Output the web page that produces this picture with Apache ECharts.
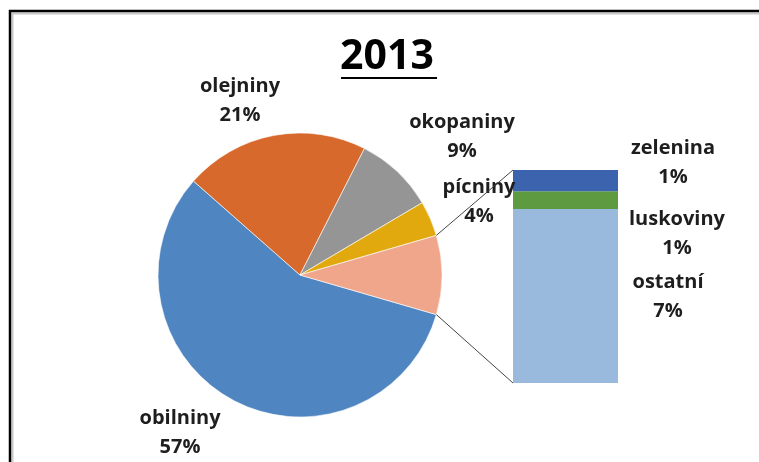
<!DOCTYPE html>
<html>
<head>
<meta charset="utf-8">
<script src="https://cdn.jsdelivr.net/npm/echarts@6/dist/echarts.min.js"></script>
<style>html,body{margin:0;padding:0;background:#fff}#c{width:759px;height:462px}</style>
</head>
<body>
<div id="c"></div>
<script>
// ---- data ----
const titleText = '2013';
const pieCats = ['obilniny', 'olejniny', 'okopaniny', 'pícniny', 'ostatní'];
const pieValues = [57, 21, 9, 4, 9];
const barCats = ['ostatní', 'luskoviny', 'zelenina'];
const barValues = [7.35, 0.75, 0.9];

// ---- layout / style ----
const FONT = 'Open Sans';
const pieColors = ['#4F86C1', '#D6692B', '#959595', '#E2A90F', '#EFA68B'];
const barColors = ['#9ABADD', '#5E9B40', '#3C64AE'];
const cx = 300, cy = 275, R = 142;
const startAngle = -16.2;
const gridL = 513, gridT = 170, gridW = 105, gridH = 213;
const pieLabelPos = [[180, 433], [240, 101], [462, 137], [479, 202], null];
const barLabelPos = [[668, 297], [677, 234], [673, 163]];

const pieTotal = pieValues.reduce((a, b) => a + b, 0);
const barTotal = barValues.reduce((a, b) => a + b, 0);

// connector line endpoints from pie geometry
const before = pieValues.slice(0, pieValues.length - 1).reduce((a, b) => a + b, 0);
const aTop = (startAngle - before / pieTotal * 360) * Math.PI / 180;
const aBot = (startAngle - 360) * Math.PI / 180;
const pTop = [cx + R * Math.cos(aTop), cy - R * Math.sin(aTop)];
const pBot = [cx + R * Math.cos(aBot), cy - R * Math.sin(aBot)];

const labelStyle = {
  fontFamily: FONT, fontSize: 20, fontWeight: 'bold', color: '#1e1e1e', lineHeight: 29
};

const chart = echarts.init(document.getElementById('c'));
const option = {
  animation: false,
  grid: { left: gridL, top: gridT, width: gridW, height: gridH },
  xAxis: { type: 'category', data: ['x'], show: false },
  yAxis: { type: 'value', min: 0, max: barTotal, show: false },
  series: [
    {
      type: 'pie',
      center: [cx, cy],
      radius: R,
      startAngle: startAngle,
      clockwise: true,
      avoidLabelOverlap: false,
      itemStyle: { borderColor: '#fff', borderWidth: 0.6 },
      label: Object.assign({ formatter: p => p.name + '\n' + Math.round(p.value / pieTotal * 100) + '%' }, labelStyle),
      labelLine: { show: false },
      labelLayout: function (p) {
        const pos = pieLabelPos[p.dataIndex];
        if (!pos) return {};
        return { x: pos[0], y: pos[1], align: 'center', verticalAlign: 'middle' };
      },
      data: pieCats.map((n, i) => ({
        name: n, value: pieValues[i],
        itemStyle: { color: pieColors[i] },
        label: { show: i < pieCats.length - 1 }
      }))
    }
  ].concat(barCats.map((n, i) => ({
    type: 'bar',
    name: n,
    stack: 'other',
    barWidth: '100%',
    itemStyle: { color: barColors[i] },
    label: Object.assign({
      show: true, position: 'right',
      formatter: p => n + '\n' + Math.round(p.value / pieTotal * 100) + '%'
    }, labelStyle),
    labelLayout: function () {
      const pos = barLabelPos[i];
      return { x: pos[0], y: pos[1], align: 'center', verticalAlign: 'middle' };
    },
    data: [barValues[i]]
  }))),
  graphic: [
    { type: 'rect', shape: { x: 12.5, y: 13.5, width: 900, height: 600 }, style: { fill: 'none', stroke: '#c8c8c8', lineWidth: 2 }, silent: true },
    { type: 'rect', shape: { x: 10, y: 11, width: 900, height: 600 }, style: { fill: 'none', stroke: '#000', lineWidth: 2.5 }, silent: true },
    { type: 'text', x: 387, y: 57, style: { text: titleText, fontFamily: FONT, fontSize: 41, fontWeight: 'bold', fill: '#000', align: 'center', verticalAlign: 'middle' } },
    { type: 'line', shape: { x1: 341, y1: 78, x2: 437, y2: 78 }, style: { stroke: '#000', lineWidth: 2 } },
    { type: 'line', shape: { x1: pTop[0], y1: pTop[1], x2: gridL, y2: gridT }, style: { stroke: '#444', lineWidth: 1 }, z: 10 },
    { type: 'line', shape: { x1: pBot[0], y1: pBot[1], x2: gridL, y2: gridT + gridH }, style: { stroke: '#444', lineWidth: 1 }, z: 10 }
  ]
};
chart.setOption(option);
</script>
</body>
</html>
